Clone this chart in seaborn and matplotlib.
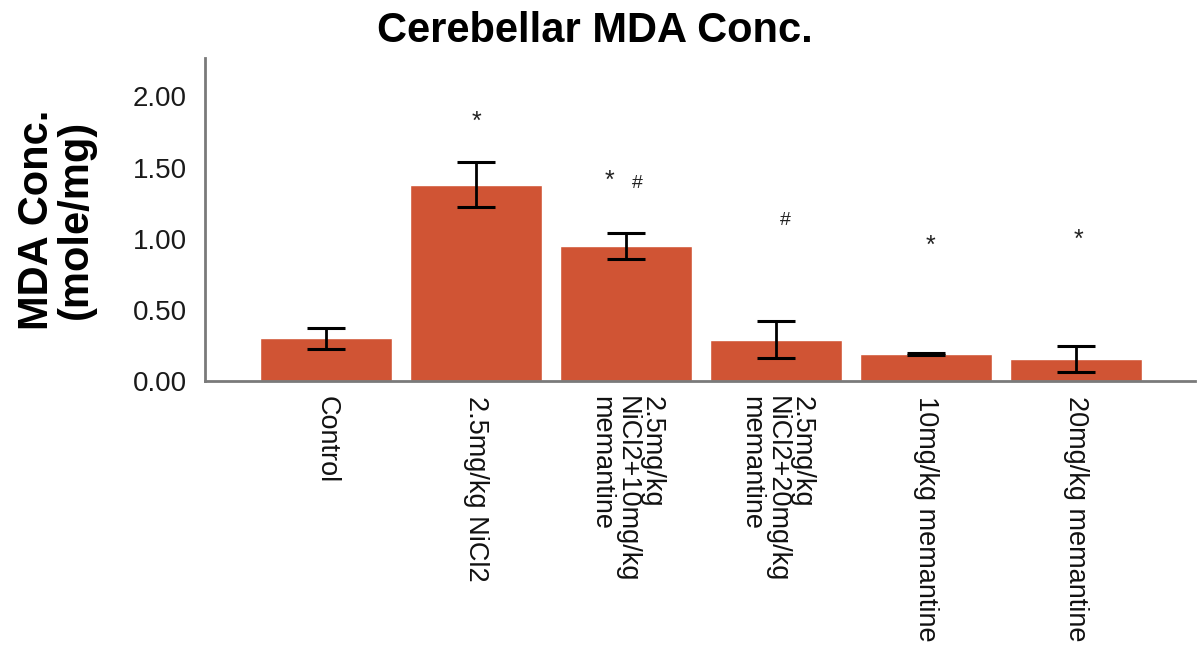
import matplotlib
matplotlib.use("Agg")
import matplotlib.pyplot as plt
import seaborn as sns
import pandas as pd

groups = [
    "Control",
    "2.5mg/kg NiCl2",
    "2.5mg/kg\nNiCl2+10mg/kg\nmemantine",
    "2.5mg/kg\nNiCl2+20mg/kg\nmemantine",
    "10mg/kg memantine",
    "20mg/kg memantine",
]
mda_mean = [0.30, 1.38, 0.95, 0.29, 0.19, 0.155]
mda_err = [0.075, 0.16, 0.09, 0.13, 0.01, 0.09]

# significance marks: (group index, symbol, y position, x offset)
sig_group = [1, 2, 2, 3, 4, 5]
sig_text = ["*", "*", "#", "#", "*", "*"]
sig_y = [1.82, 1.41, 1.39, 1.13, 0.95, 0.99]
sig_dx = [0.0, -0.11, 0.07, 0.06, 0.03, 0.01]

yticks = [0.0, 0.5, 1.0, 1.5, 2.0]

sns.set_theme(style="white")
plt.rcParams["font.family"] = ["Liberation Sans", "DejaVu Sans"]

df = pd.DataFrame({"group": groups, "mda": mda_mean})

fig = plt.figure(figsize=(11.98, 6.52), dpi=100)
ax = fig.add_axes([0.171, 0.4156, 0.8265, 0.4954])

bar_color = "#D05434"
sns.barplot(data=df, x="group", y="mda", order=groups, color=bar_color,
            saturation=1, width=0.88, errorbar=None, ax=ax)

ax.errorbar(range(len(groups)), mda_mean, yerr=mda_err, fmt="none",
            ecolor="black", elinewidth=2, capsize=13.5, capthick=2.2, zorder=3)

for g, s, y, dx in zip(sig_group, sig_text, sig_y, sig_dx):
    fs = 18 if s == "*" else 14
    ax.text(g + dx, y, s, ha="center", va="center", fontsize=fs, color="#222222")

ax.set_xlim(-0.81, 5.79)
ax.set_ylim(0, 2.27)
ax.set_yticks(yticks)
ax.set_yticklabels([f"{v:.2f}" for v in yticks], fontsize=20)
ax.tick_params(axis="y", length=0, pad=13, colors="#1a1a1a")
ax.tick_params(axis="x", length=0, pad=11, colors="#111111")
for lab in ax.get_xticklabels():
    lab.set_rotation(270)
    lab.set_fontsize(19.5)
    lab.set_ha("center")
    lab.set_va("top")
    lab.set_multialignment("left")
    lab.set_linespacing(0.98)

for side in ["top", "right"]:
    ax.spines[side].set_visible(False)
for side in ["left", "bottom"]:
    ax.spines[side].set_color("#7a7a7a")
    ax.spines[side].set_linewidth(2)

ax.set_xlabel("")
ax.set_ylabel("")
fig.text(0.047, 0.663, "MDA Conc.\n(mole/mg)", rotation=90, ha="center",
         va="center", multialignment="center", fontsize=30,
         fontweight="bold", linespacing=0.95, color="black")
fig.text(0.4966, 0.953, "Cerebellar MDA Conc.", ha="center", va="center",
         fontsize=30, fontweight="bold", color="black")

fig.savefig("out.png", dpi=100)
